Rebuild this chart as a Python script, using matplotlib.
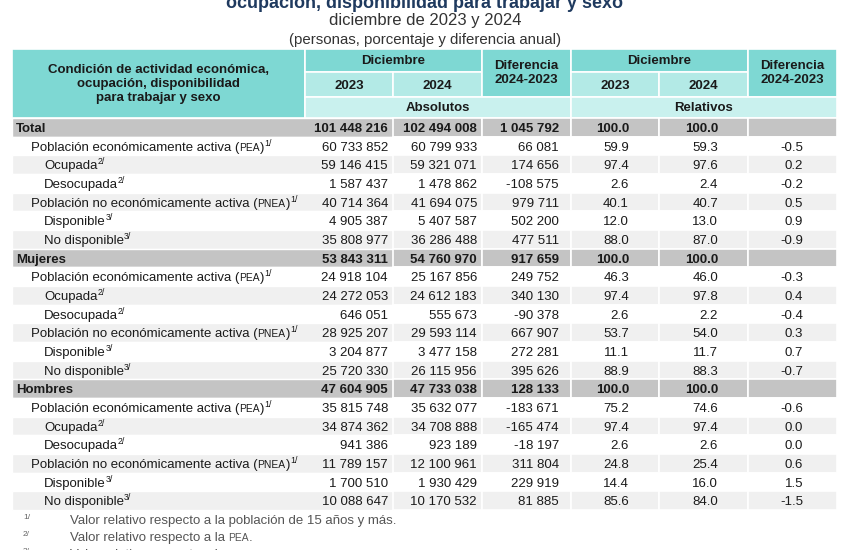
import matplotlib.pyplot as plt
from matplotlib.patches import Rectangle

plt.rcParams['font.family'] = ['Liberation Sans', 'DejaVu Sans']

# datos
grupos = ["Total", "Mujeres", "Hombres"]
sub_etiquetas = ["Población económicamente activa", "Ocupada", "Desocupada",
                 "Población no económicamente activa", "Disponible", "No disponible"]
sub_siglas = ["PEA", "", "", "PNEA", "", ""]
sub_notas = ["1/", "2/", "2/", "1/", "3/", "3/"]
sub_nivel = [1, 2, 2, 1, 2, 2]

abs_2023 = [101448216, 60733852, 59146415, 1587437, 40714364, 4905387, 35808977,
            53843311, 24918104, 24272053, 646051, 28925207, 3204877, 25720330,
            47604905, 35815748, 34874362, 941386, 11789157, 1700510, 10088647]
abs_2024 = [102494008, 60799933, 59321071, 1478862, 41694075, 5407587, 36286488,
            54760970, 25167856, 24612183, 555673, 29593114, 3477158, 26115956,
            47733038, 35632077, 34708888, 923189, 12100961, 1930429, 10170532]
abs_dif = [1045792, 66081, 174656, -108575, 979711, 502200, 477511,
           917659, 249752, 340130, -90378, 667907, 272281, 395626,
           128133, -183671, -165474, -18197, 311804, 229919, 81885]
rel_2023 = [100.0, 59.9, 97.4, 2.6, 40.1, 12.0, 88.0,
            100.0, 46.3, 97.4, 2.6, 53.7, 11.1, 88.9,
            100.0, 75.2, 97.4, 2.6, 24.8, 14.4, 85.6]
rel_2024 = [100.0, 59.3, 97.6, 2.4, 40.7, 13.0, 87.0,
            100.0, 46.0, 97.8, 2.2, 54.0, 11.7, 88.3,
            100.0, 74.6, 97.4, 2.6, 25.4, 16.0, 84.0]
rel_dif = [None, -0.5, 0.2, -0.2, 0.5, 0.9, -0.9,
           None, -0.3, 0.4, -0.4, 0.3, 0.7, -0.7,
           None, -0.6, 0.0, 0.0, 0.6, 1.5, -1.5]

notas = [("1/", "Valor relativo respecto a la población de 15 años y más.", ""),
         ("2/", "Valor relativo respecto a la ", "PEA"),
         ("3/", "Valor relativo respecto a la ", "PNEA")]

titulo = "ocupación, disponibilidad para trabajar y sexo"
subtitulo1 = "diciembre de 2023 y 2024"
subtitulo2 = "(personas, porcentaje y diferencia anual)"

# colores
teal = '#7ed8d3'
teal_mid = '#b3eae6'
teal_light = '#c9f1ee'
gris = '#c4c4c4'
gris_claro = '#f0f0f0'
txt = '#1a1a1a'

fig = plt.figure(figsize=(8.5, 5.5), dpi=100)
ax = fig.add_axes([0, 0, 1, 1])
ax.set_xlim(0, 850)
ax.set_ylim(550, 0)
ax.axis('off')
r = fig.canvas.get_renderer()

FS = 9.5
cols = [12, 305, 393, 482, 571, 659, 748, 837]
y_head = [49, 72, 97, 118]
row_h = 18.67


def celda(x0, x1, y0, y1, color):
    ax.add_patch(Rectangle((x0, y0), x1 - x0, y1 - y0, facecolor=color,
                           edgecolor='white', linewidth=1.2))


def fmt(n):
    s = f"{abs(n):,}".replace(",", " ")
    return "-" + s if n < 0 else s


def rico(x, y, partes, weight='normal', color=txt):
    for texto, size, dy in partes:
        t = ax.text(x, y - dy, texto, fontsize=size, fontweight=weight,
                    color=color, ha='left', va='baseline')
        x += t.get_window_extent(r).width


# titulos
ax.text(425, 7.5, titulo, ha='center', va='baseline', fontsize=13,
        fontweight='bold', color='#1f3a5f')
ax.text(425, 20, subtitulo1, ha='center', va='center', fontsize=12, color='#333333')
ax.text(425, 40, subtitulo2, ha='center', va='center', fontsize=10.8, color='#333333')

# encabezado
celda(cols[0], cols[1], y_head[0], y_head[3], teal)
celda(cols[1], cols[3], y_head[0], y_head[1], teal)
celda(cols[1], cols[2], y_head[1], y_head[2], teal_mid)
celda(cols[2], cols[3], y_head[1], y_head[2], teal_mid)
celda(cols[3], cols[4], y_head[0], y_head[2], teal)
celda(cols[4], cols[6], y_head[0], y_head[1], teal)
celda(cols[4], cols[5], y_head[1], y_head[2], teal_mid)
celda(cols[5], cols[6], y_head[1], y_head[2], teal_mid)
celda(cols[6], cols[7], y_head[0], y_head[2], teal)
celda(cols[1], cols[4], y_head[2], y_head[3], teal_light)
celda(cols[4], cols[7], y_head[2], y_head[3], teal_light)

hkw = dict(ha='center', va='center', fontsize=FS, fontweight='bold', color=txt)
ax.text((cols[0] + cols[1]) / 2, 84,
        "Condición de actividad económica,\nocupación, disponibilidad\npara trabajar y sexo",
        linespacing=1.25, **hkw)
for a, b in [(1, 3), (4, 6)]:
    ax.text((cols[a] + cols[b]) / 2, 61, "Diciembre", **hkw)
for c in [1, 2, 4, 5]:
    ax.text((cols[c] + cols[c + 1]) / 2, 86, ["2023", "2024"][(c - 1) % 3], **hkw)
for c in [3, 6]:
    ax.text((cols[c] + cols[c + 1]) / 2, 73, "Diferencia\n2024-2023", linespacing=1.2, **hkw)
ax.text((cols[1] + cols[4]) / 2, 108, "Absolutos", **hkw)
ax.text((cols[4] + cols[7]) / 2, 108, "Relativos", **hkw)

# filas
etiquetas = []
for g in grupos:
    etiquetas.append((g, "", "", 0))
    for e, s, n, lv in zip(sub_etiquetas, sub_siglas, sub_notas, sub_nivel):
        etiquetas.append((e, s, n, lv))

sangria = {0: 16, 1: 31, 2: 44}
right_pad = [5, 5, 12, 30, 30, 34]

for i, (et, sig, nota, lv) in enumerate(etiquetas):
    y0 = y_head[3] + i * row_h
    y1 = y0 + row_h
    k = i % 7
    color = gris if k == 0 else (gris_claro if k % 2 == 0 else 'white')
    ax.add_patch(Rectangle((cols[0], y0), cols[2] - cols[0], row_h, facecolor=color,
                           edgecolor='white', linewidth=1.0))
    for c in range(2, 7):
        celda(cols[c], cols[c + 1], y0, y1, color)
    yb = (y0 + y1) / 2 + 4.6
    w = 'bold' if lv == 0 else 'normal'
    if lv == 0:
        partes = [(et, FS, 0)]
    elif sig:
        partes = [(et + " (", FS, 0), (sig, FS * 0.78, 0), (")", FS, 0), (nota, 6.3, 5)]
    else:
        partes = [(et, FS, 0), (nota, 6.3, 5)]
    rico(sangria[lv], yb, partes, weight=w)

    vals = [fmt(abs_2023[i]), fmt(abs_2024[i]), fmt(abs_dif[i]),
            f"{rel_2023[i]:.1f}", f"{rel_2024[i]:.1f}",
            "" if rel_dif[i] is None else f"{rel_dif[i]:.1f}"]
    for c, v in enumerate(vals):
        ax.text(cols[c + 2] - right_pad[c], yb, v, ha='right', va='baseline',
                fontsize=FS, fontweight=w, color=txt)

# notas al pie
for j, (m, t1, t2) in enumerate(notas):
    yb = 524 + j * 17
    ax.text(23, yb - 5, m, fontsize=6.0, color='#666666', ha='left', va='baseline')
    partes = [(t1, FS, 0)]
    if t2:
        partes.append((t2, FS * 0.78, 0))
        partes.append((".", FS, 0))
    rico(70, yb, partes, color='#555555')

plt.savefig('out.png', dpi=100)
